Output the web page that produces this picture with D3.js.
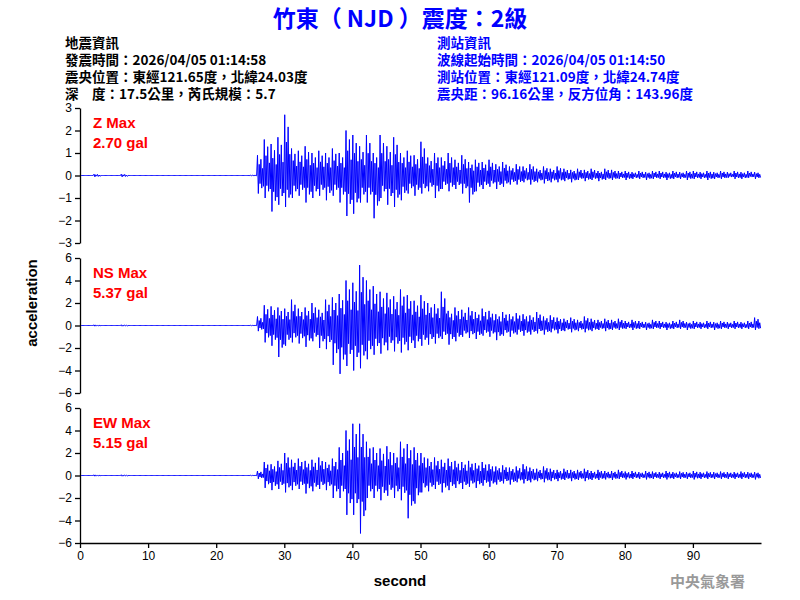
<!DOCTYPE html>
<html><head><meta charset="utf-8">
<script src="https://cdn.jsdelivr.net/npm/d3@7"></script>
<style>body{margin:0;background:#fff}text{font-family:Arial,"Liberation Sans",sans-serif}</style>
</head><body>
<svg id="c" width="800" height="600"></svg>
<script>
// per-second peak amplitudes (gal): positive peak and negative peak magnitude
const pre = [0,0,0.06,0,0,0,0.06,0,0,0,0,0,0,0,0,0,0,0,0,0,0,0,0,0,0,0.02];
const zPos = pre.concat([.9,1.6,1.4,1.7,2.7,1.2,1.1,1.3,1.0,1.1,1.0,1.2,1.0,2.0,1.8,1.3,1.8,1.0,1.8,1.3,1.7,1.0,1.1,.9,1.5,.8,1.0,.8,1.0,.7,.9,.6,.7,.6,.7,.5,.6,.4,.5,.4,.5,.3,.4,.3,.4,.3,.25,.3,.25,.3,.2,.3,.25,.2,.2,.15,.2,.15,.2,.2,.15,.2,.15,.2,.2,.15,.2,.15,.2,.15,.2,.15,.2,.15]);
const zNeg = pre.concat([.8,1.0,1.6,1.3,1.4,1.0,.9,1.2,1.0,.9,1.1,.9,1.2,1.8,1.7,1.2,1.2,1.9,1.0,1.3,1.4,1.1,.8,.9,.8,.7,1.0,.6,.7,.6,.8,1.2,.7,.6,.5,.6,.5,.4,.4,.3,.4,.3,.35,.3,.3,.25,.3,.2,.25,.2,.25,.2,.2,.15,.2,.15,.15,.2,.15,.15,.2,.15,.15,.2,.15,.15,.2,.15,.15,.1,.15,.15,.1,.15]);
const nsPos = pre.concat([.8,1.8,1.7,1.6,1.5,2.3,1.5,1.6,2.0,1.4,2.3,2.5,2.8,4.0,3.8,5.37,4.0,3.5,3.0,2.9,2.6,3.2,2.7,2.2,2.7,2.0,1.9,3.0,1.3,1.6,1.4,1.6,1.2,1.5,1.3,1.0,1.2,1.0,1.1,1.0,.9,1.2,.8,.9,.7,.6,.7,.5,.8,.6,.5,.6,.5,.6,.4,.5,.4,.3,.5,.4,.3,.4,.5,.3,.4,.3,.4,.3,.4,.3,.4,.3,.4,.7]);
const nsNeg = pre.concat([.5,1.5,1.8,2.8,1.8,1.5,1.6,1.9,1.4,2.0,2.1,3.5,4.3,3.6,4.0,3.8,3.0,2.6,2.5,2.2,2.3,2.4,2.2,2.0,1.8,1.7,1.6,1.2,1.7,1.4,1.0,1.1,1.2,.9,1.0,1.3,.9,1.0,.8,.9,.8,.7,.8,.6,.7,.5,.6,.5,.6,.5,.4,.5,.4,.4,.3,.4,.3,.4,.3,.3,.4,.3,.3,.4,.3,.3,.3,.4,.3,.3,.3,.3,.3,.4]);
const ewPos = pre.concat([.4,1.2,1.0,1.3,2.0,1.4,1.5,1.3,1.4,1.6,1.2,1.5,2.5,4.0,4.6,4.6,3.0,2.5,2.4,2.6,2.0,3.0,2.8,2.5,2.0,1.5,1.6,1.4,1.5,1.3,1.2,1.3,1.1,1.2,1.0,.8,.9,.7,.8,1.0,.7,.6,.8,.6,.5,.6,.5,.5,.6,.4,.5,.4,.4,.5,.35,.4,.3,.4,.35,.3,.4,.3,.35,.3,.4,.3,.35,.3,.35,.3,.3,.35,.3,.3]);
const ewNeg = pre.concat([.3,1.1,1.3,1.2,1.5,1.3,1.2,1.6,1.4,1.2,1.3,2.0,2.0,3.5,3.5,5.15,2.0,2.0,2.2,1.8,2.0,2.2,3.8,2.5,1.5,1.4,1.2,1.5,1.3,1.1,1.2,1.0,1.1,.9,1.0,.8,.7,.8,.6,.7,.6,.5,.6,.5,.5,.4,.5,.4,.5,.4,.4,.35,.4,.3,.35,.3,.3,.35,.3,.3,.35,.3,.3,.3,.35,.3,.3,.3,.3,.3,.3,.3,.3,.35]);

const panels = [
  {name:"Z Max", max:"2.70 gal", pos:zPos, neg:zNeg, dom:[-3,3], ticks:[-3,-2,-1,0,1,2,3]},
  {name:"NS Max", max:"5.37 gal", pos:nsPos, neg:nsNeg, dom:[-6,6], ticks:[-6,-4,-2,0,2,4,6]},
  {name:"EW Max", max:"5.15 gal", pos:ewPos, neg:ewNeg, dom:[-6,6], ticks:[-6,-4,-2,0,2,4,6]}
];
const xTicks = [0,10,20,30,40,50,60,70,80,90];
// within-second swing shape (fraction of the peak)
const swing = [1,-1,0.55,-0.45,0.8,-0.7,0.35,-0.6];

const svg = d3.select("#c");
const x = d3.scaleLinear().domain([0,100]).range([80,761]);
const cjk = "'Noto Sans CJK TC',sans-serif";

svg.append("text").attr("x",400).attr("y",27).attr("text-anchor","middle")
  .attr("fill","#0000ff").attr("font-size",23).attr("font-weight","bold")
  .style("font-family",cjk).text("竹東（ NJD ）震度：2級");

const left = ["地震資訊","發震時間：2026/04/05 01:14:58","震央位置：東經121.65度，北緯24.03度","深　度：17.5公里，芮氏規模：5.7"];
const right = ["測站資訊","波線起始時間：2026/04/05 01:14:50","測站位置：東經121.09度，北緯24.74度","震央距：96.16公里，反方位角：143.96度"];
left.forEach((t,i)=>svg.append("text").attr("x",65).attr("y",48+i*17).attr("font-size",13.5)
  .attr("font-weight","bold").attr("fill","#000").style("font-family",cjk).text(t));
right.forEach((t,i)=>svg.append("text").attr("x",437).attr("y",48+i*17).attr("font-size",13.5)
  .attr("font-weight","bold").attr("fill","#0000ff").style("font-family",cjk).text(t));

panels.forEach((p,k)=>{
  const top = 108 + k*150, bot = top+135;
  const y = d3.scaleLinear().domain(p.dom).range([bot,top]);
  const pts = [];
  p.pos.forEach((v,i)=>{
    const n = p.neg[i];
    swing.forEach((s,j)=>pts.push([i+(j+0.5)/swing.length, s>0 ? v*s : n*s]));
  });
  svg.append("path").attr("d",d3.line().x(d=>x(d[0])).y(d=>y(d[1]))(pts))
    .attr("fill","none").attr("stroke","#0000ff").attr("stroke-width",1);
  svg.append("g").attr("transform","translate(80,0)")
    .call(d3.axisLeft(y).tickValues(p.ticks).tickFormat(d3.format("d")).tickSize(5).tickSizeOuter(0))
    .call(g=>g.selectAll("text").attr("font-size",12).attr("fill","#000"))
    .call(g=>g.selectAll("line,path").attr("stroke","#000").attr("stroke-width",1.3));
  svg.append("text").attr("x",93).attr("y",top+20).attr("fill","#ff0000").attr("font-size",15)
    .attr("font-weight","bold").text(p.name);
  svg.append("text").attr("x",93).attr("y",top+40).attr("fill","#ff0000").attr("font-size",15)
    .attr("font-weight","bold").text(p.max);
});

svg.append("g").attr("transform","translate(0,543)")
  .call(d3.axisBottom(x).tickValues(xTicks).tickSize(5).tickSizeOuter(0))
  .call(g=>g.selectAll("text").attr("font-size",12).attr("fill","#000"))
  .call(g=>g.selectAll("line,path").attr("stroke","#000").attr("stroke-width",1.3));

svg.append("text").attr("transform","translate(37,303) rotate(-90)").attr("text-anchor","middle")
  .attr("font-size",15).attr("font-weight","bold").attr("fill","#000").text("acceleration");
svg.append("text").attr("x",400).attr("y",586).attr("text-anchor","middle")
  .attr("font-size",15).attr("font-weight","bold").attr("fill","#000").text("second");
svg.append("text").attr("x",745).attr("y",587).attr("text-anchor","end").attr("font-size",15)
  .attr("font-weight","bold").attr("fill","#999").style("font-family",cjk).text("中央氣象署");
</script>
</body></html>
